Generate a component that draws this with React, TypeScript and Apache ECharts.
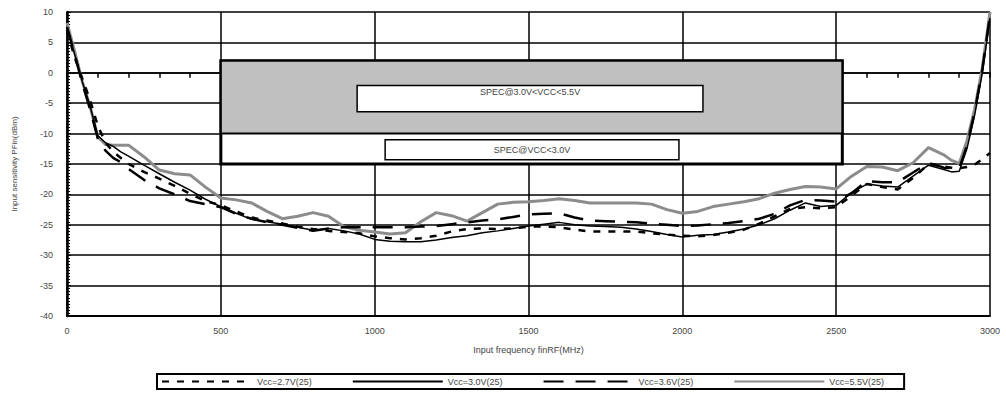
import React, { useEffect, useRef } from "react";
import * as echarts from "echarts";

const freqs = [
  0, 25, 50, 75, 100, 125, 150, 175, 200, 250, 300, 350, 400, 450, 500, 550, 600, 650, 700, 750,
  800, 850, 900, 950, 1000, 1050, 1100, 1150, 1200, 1250, 1300, 1350, 1400, 1450, 1500, 1550,
  1600, 1650, 1700, 1750, 1800, 1850, 1900, 1950, 2000, 2050, 2100, 2150, 2200, 2250, 2300,
  2350, 2400, 2450, 2500, 2550, 2600, 2650, 2700, 2750, 2800, 2850, 2875, 2900, 2925, 2950,
  2975, 3000,
];

const vcc27 = [
  7, 2.5, -1, -4.5, -8.7, -11.5, -13, -14, -15, -16.3, -17.4, -18.6, -19.9, -21.1, -21.8, -22.8,
  -23.8, -24.3, -24.8, -25.3, -25.7, -26.0, -26.2, -26.4, -26.9, -27.2, -27.4, -27.2, -26.8,
  -26.1, -25.7, -25.6, -25.7, -25.6, -25.3, -25.3, -25.4, -25.8, -26.1, -26.1, -26.1, -26.1,
  -26.4, -26.6, -26.8, -26.9, -26.7, -26.3, -25.8, -24.8, -23.6, -22.4, -22.1, -22.3, -22.1,
  -20.2, -18.3, -18.8, -19.2, -17.3, -15.0, -15.4, -15.6, -15.7, -15.5, -15.1, -14.2, -13.2,
];

const vcc30 = [
  7.5, 3, -1.5, -5.5, -10.3, -11.5, -12.1, -13.0, -13.7, -15.2, -16.6, -18.0, -19.3, -20.8,
  -22.0, -23.1, -24.1, -24.5, -24.9, -25.4, -25.9, -25.6, -26.0, -26.5, -27.4, -27.7, -27.8,
  -27.8, -27.5, -27.1, -26.8, -26.3, -26.0, -25.6, -25.2, -24.9, -24.6, -25.0, -25.2, -25.3,
  -25.4, -25.7, -26.1, -26.6, -27.0, -26.7, -26.6, -26.2, -25.7, -25.0, -24.0, -22.6, -21.4,
  -22.0, -21.8, -19.7, -18.3, -18.6, -18.8, -17.0, -15.2, -15.9, -16.3, -16.2, -12.5, -7, 0, 9,
];

const vcc36 = [
  7.5, 3, -1.8, -6, -10.8, -12.8, -14.0, -14.7, -15.8, -17.6, -19.0, -20.0, -21.1, -21.6,
  -22.1, -23.2, -24.0, -24.6, -25.0, -25.5, -26.0, -25.6, -25.4, -25.4, -25.4, -25.4, -25.4,
  -25.3, -25.2, -24.9, -24.6, -24.3, -24.1, -23.7, -23.3, -23.2, -23.1, -23.8, -24.3, -24.4,
  -24.5, -24.6, -24.8, -25.0, -25.2, -25.1, -24.9, -24.7, -24.4, -24.0, -23.2, -21.8, -20.9,
  -21.0, -21.2, -19.8, -17.8, -18.0, -18.0, -16.4, -14.8, -15.6, -15.7, -15.7, -12, -6.5, 0.5,
  9.5,
];

const vcc55 = [
  8.2, 3.5, -1.5, -5.5, -10.5, -11.8, -11.9, -11.9, -11.9, -13.8, -16.0, -16.6, -16.8, -18.8,
  -20.6, -20.9, -21.4, -22.8, -24.0, -23.6, -23.0, -23.6, -25.3, -25.9, -26.2, -26.5, -26.3,
  -24.5, -23.0, -23.5, -24.4, -23.0, -21.6, -21.3, -21.2, -21.0, -20.7, -21.0, -21.4, -21.4,
  -21.4, -21.4, -21.6, -22.5, -23.1, -22.8, -22.0, -21.6, -21.2, -20.7, -19.8, -19.2, -18.7,
  -18.8, -19.1, -17.0, -15.4, -15.5, -16.1, -14.8, -12.3, -13.5, -14.4, -14.9, -11.2, -6, 0.8,
  10,
];

const seriesNames = ["Vcc=2.7V(25)", "Vcc=3.0V(25)", "Vcc=3.6V(25)", "Vcc=5.5V(25)"];

// spec region (MHz, dBm)
const specFreqRange = [500, 2520];
const specTop = 2;
const specMid = -10;
const specBottom = -15;
const specLabel1 = "SPEC@3.0V<VCC<5.5V";
const specLabel1Box = [943, -2.1, 2067, -6.4];
const specLabel2 = "SPEC@VCC<3.0V";
const specLabel2Box = [1034, -11, 1989, -14.3];

const yTicks = { min: -40, max: 10, interval: 5 };
const xTicks = { min: 0, max: 3000, interval: 500 };

const FONT = "Liberation Sans, Arial, sans-serif";

export default function App() {
  const ref = useRef<HTMLDivElement>(null);

  useEffect(() => {
    if (!ref.current) return;
    const chart = echarts.init(ref.current, undefined, { renderer: "svg" });
    const pair = (vals: number[]) => freqs.map((f, i) => [f, vals[i]]);

    const labelText = { fontSize: 9, color: "#444", fontFamily: FONT };
    const plain = (v: number) => String(v);

    const option: any = {
      animation: false,
      textStyle: { fontFamily: FONT },
      grid: { left: 67, right: 16, top: 12, bottom: 81 },
      xAxis: [
        {
          type: "value",
          min: xTicks.min,
          max: xTicks.max,
          interval: xTicks.interval,
          position: "bottom",
          name: "Input frequency finRF(MHz)",
          nameLocation: "middle",
          nameGap: 29,
          nameTextStyle: { fontSize: 9, color: "#444", fontFamily: FONT },
          axisLine: { onZero: false, lineStyle: { color: "#000", width: 2 } },
          axisTick: { show: false },
          axisLabel: { ...labelText, margin: 10, formatter: plain },
          splitLine: { show: true, lineStyle: { color: "#000", width: 1.5 } },
        },
        {
          type: "value",
          min: xTicks.min,
          max: xTicks.max,
          interval: 100,
          position: "bottom",
          axisLine: { show: true, onZero: true, onZeroAxisIndex: 0, lineStyle: { color: "#000", width: 1.5 } },
          axisTick: { show: true, length: 5, lineStyle: { color: "#000", width: 1.5 } },
          axisLabel: { show: false },
          splitLine: { show: false },
        },
      ],
      yAxis: {
        type: "value",
        min: yTicks.min,
        max: yTicks.max,
        interval: yTicks.interval,
        name: "Input sensitivity PFin(dBm)",
        nameLocation: "middle",
        nameGap: 49,
        nameTextStyle: { fontSize: 8, color: "#444", fontFamily: FONT },
        axisLine: { show: true, onZero: false, lineStyle: { color: "#000", width: 2.5 } },
        axisTick: { show: true, inside: true, length: 4, lineStyle: { color: "#000" } },
        minorTick: { show: true, splitNumber: 10, length: 3, lineStyle: { color: "#000" } },
        axisLabel: { ...labelText, margin: 14, formatter: plain },
        splitLine: { show: true, lineStyle: { color: "#000", width: 1.5 } },
      },
      legend: {
        data: seriesNames,
        left: 157,
        top: 374,
        orient: "horizontal",
        itemWidth: 90,
        itemHeight: 10,
        itemGap: 40,
        padding: [3, 20, 3, 4],
        borderColor: "#000",
        borderWidth: 2,
        itemStyle: { opacity: 0, borderWidth: 0 },
        textStyle: { fontSize: 9, color: "#444", fontFamily: FONT },
      },
      series: [
        {
          name: seriesNames[0],
          type: "line",
          symbol: "none",
          data: pair(vcc27),
          lineStyle: { color: "#000", width: 2.5, type: [7, 8] },
          itemStyle: { color: "#000" },
          z: 3,
          markArea: {
            silent: true,
            data: [
              [
                {
                  xAxis: specFreqRange[0],
                  yAxis: specTop,
                  itemStyle: { color: "#fff", borderColor: "#000", borderWidth: 3 },
                  label: { show: false },
                },
                { xAxis: specFreqRange[1], yAxis: specBottom },
              ],
              [
                {
                  xAxis: specFreqRange[0],
                  yAxis: specTop,
                  itemStyle: { color: "#c0c0c0", borderColor: "#000", borderWidth: 2 },
                  label: { show: false },
                },
                { xAxis: specFreqRange[1], yAxis: specMid },
              ],
              [
                {
                  name: specLabel1,
                  xAxis: specLabel1Box[0],
                  yAxis: specLabel1Box[1],
                  itemStyle: { color: "#fff", borderColor: "#000", borderWidth: 1.5 },
                  label: { show: true, position: "insideTop", distance: 3, ...labelText },
                },
                { xAxis: specLabel1Box[2], yAxis: specLabel1Box[3] },
              ],
              [
                {
                  name: specLabel2,
                  xAxis: specLabel2Box[0],
                  yAxis: specLabel2Box[1],
                  itemStyle: { color: "#fff", borderColor: "#000", borderWidth: 1.5 },
                  label: { show: true, position: "inside", ...labelText },
                },
                { xAxis: specLabel2Box[2], yAxis: specLabel2Box[3] },
              ],
            ],
          },
        },
        {
          name: seriesNames[1],
          type: "line",
          symbol: "none",
          data: pair(vcc30),
          lineStyle: { color: "#000", width: 1.5, type: "solid" },
          itemStyle: { color: "#000" },
          z: 4,
        },
        {
          name: seriesNames[2],
          type: "line",
          symbol: "none",
          data: pair(vcc36),
          lineStyle: { color: "#000", width: 2.5, type: [20, 12] },
          itemStyle: { color: "#000" },
          z: 5,
        },
        {
          name: seriesNames[3],
          type: "line",
          symbol: "none",
          data: pair(vcc55),
          lineStyle: { color: "#8c8c8c", width: 3, type: "solid" },
          itemStyle: { color: "#8c8c8c" },
          z: 2,
        },
      ],
    };

    chart.setOption(option);
    return () => chart.dispose();
  }, []);

  return (
    <div
      ref={ref}
      style={{ position: "fixed", left: 0, top: 0, width: 1006, height: 397, background: "#fff" }}
    />
  );
}
